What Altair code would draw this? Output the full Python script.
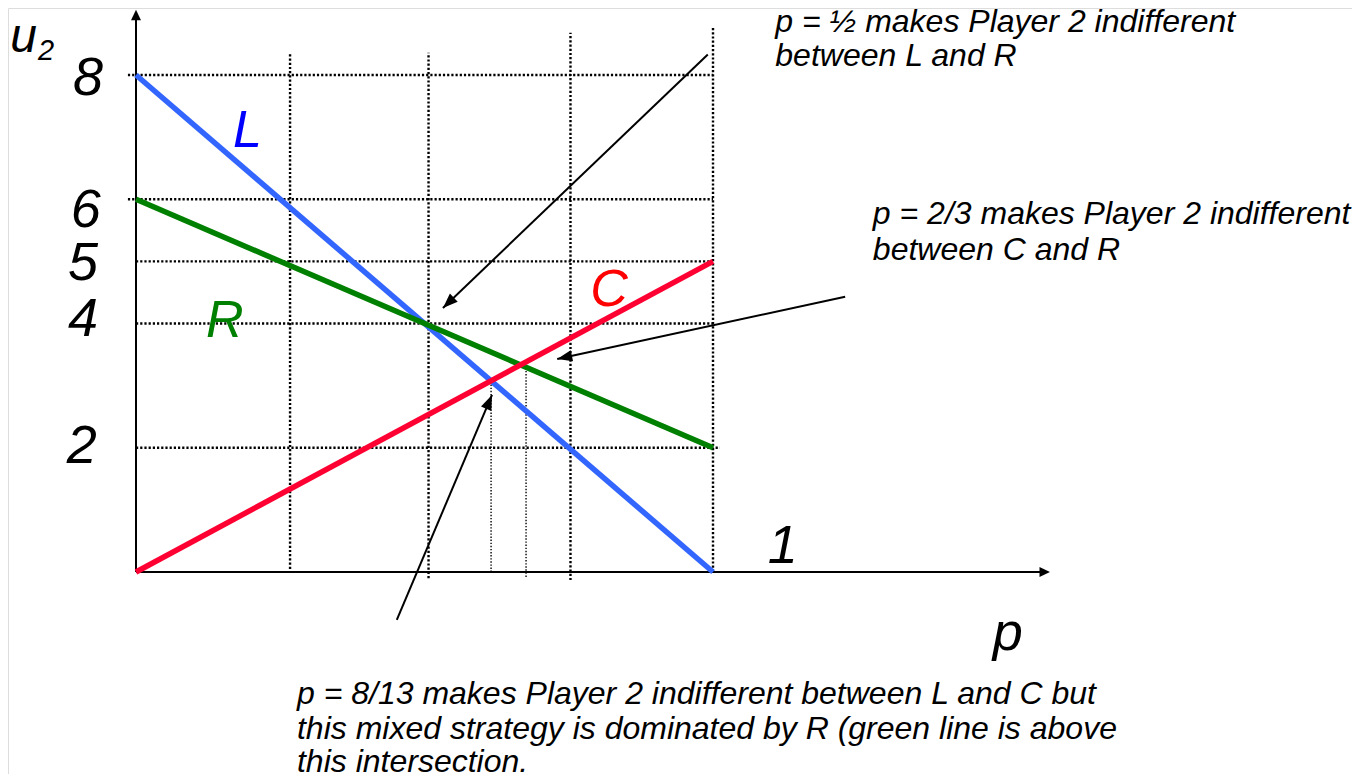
import math
import altair as alt
import pandas as pd

# ---------------- data ----------------
strategies = ["L", "C", "R"]
u_at_p0 = [8, 0, 6]
u_at_p1 = [0, 5, 2]
line_colors = ["#3366FF", "#FF0033", "#008000"]
label_colors = ["#0000FF", "#FF0000", "#008000"]
label_p = [0.193, 0.820, 0.154]
label_u = [6.84, 4.28, 3.78]

# reference (dotted) lines
h_grid_u = [8, 6, 5, 4, 2]
h_grid_p0 = [-0.014, -0.014, 0.0, 0.0, 0.0]
h_grid_p1 = [1.0, 1.0, 1.0, 1.0, 1.012]
v_grid_p = [0.267, 0.507, 0.753, 1.0]
v_grid_u0 = [0.05, -0.10, -0.13, 0.0]
v_grid_u1 = [8.36, 8.36, 8.68, 8.78]
v_thin_p = [8 / 13, 0.676]
v_thin_u0 = [0.0, -0.08]
v_thin_u1 = [3.04, 3.33]

# tick labels on the u axis
tick_text = ["8", "6", "5", "4", "2"]
tick_u = [7.68, 5.55, 4.70, 3.80, 1.75]
tick_p = [-0.083, -0.087, -0.092, -0.092, -0.094]

# annotation arrows: start (p,u) -> tip (p,u)
arr_p0 = [0.991, 1.229, 0.452]
arr_u0 = [8.33, 4.43, -0.77]
arr_p1 = [0.532, 0.730, 0.617]
arr_u1 = [4.25, 3.43, 2.85]

# annotation text lines
ann_text = [
    "p = \u00bd makes Player 2 indifferent",
    "between L and R",
    "p = 2/3 makes Player 2 indifferent",
    "between C and R",
]
ann_p = [1.108, 1.108, 1.277, 1.277]
ann_u = [8.70, 8.14, 5.60, 5.02]

bottom_text = [
    "p = 8/13 makes Player 2 indifferent between L and C but",
    "this mixed strategy is dominated by R (green line is above",
    "this intersection.",
]
bottom_p = [0.279, 0.279, 0.279]
bottom_u = [-2.125, -2.688, -3.219]

# ---------------- scales ----------------
W, H = 1344, 766
KX = 577.0      # px per unit p
KY = 62.125     # px per unit u
XD = [(8 - 136) / KX, (8 + W - 136) / KX]
YD = [(572 - 8 - H) / KY, (572 - 8) / KY]
xs = alt.Scale(domain=XD, nice=False, zero=False)
ys = alt.Scale(domain=YD, nice=False, zero=False)

FONT = "Liberation Sans, Arial, sans-serif"


def X(f="p"):
    return alt.X(f"{f}:Q", scale=xs, axis=None)


def Y(f="u"):
    return alt.Y(f"{f}:Q", scale=ys, axis=None)


def angle(p0, u0, p1, u1):
    dx = (p1 - p0) * KX
    dy = -(u1 - u0) * KY
    return math.degrees(math.atan2(dx, -dy)) % 360


# ---------------- layers ----------------
hgrid = pd.DataFrame({"u": h_grid_u, "p": h_grid_p0, "p2": h_grid_p1})
vgrid = pd.DataFrame({"p": v_grid_p, "u": v_grid_u0, "u2": v_grid_u1})
vthin = pd.DataFrame({"p": v_thin_p, "u": v_thin_u0, "u2": v_thin_u1})

hg = alt.Chart(hgrid).mark_rule(color="black", strokeWidth=2.4, strokeDash=[2.2, 2]).encode(
    x=X(), x2="p2:Q", y=Y())
vg = alt.Chart(vgrid).mark_rule(color="black", strokeWidth=2.4, strokeDash=[2.2, 2]).encode(
    x=X(), y=Y(), y2="u2:Q")
vt = alt.Chart(vthin).mark_rule(color="black", strokeWidth=1.4, strokeDash=[1.4, 1.7]).encode(
    x=X(), y=Y(), y2="u2:Q")

# axes with arrows
axis_df = pd.DataFrame({"p": [0.0, 0.0], "u": [0.0, 0.0], "p2": [0.0, 1.570], "u2": [8.93, 0.0]})
axes = alt.Chart(axis_df).mark_rule(color="black", strokeWidth=2).encode(
    x=X(), y=Y(), x2="p2:Q", y2="u2:Q")
axis_tip = pd.DataFrame({"p": [0.0, 1.584], "u": [9.05, 0.0]})
axis_tip["a"] = [angle(0, 0, 0, 1), angle(0, 0, 1, 0)]
axis_heads = alt.Chart(axis_tip).mark_point(
    shape="M0,0L0.95,2L-0.95,2Z", filled=True, color="black", opacity=1, size=110, strokeWidth=0
).encode(x=X(), y=Y(), angle=alt.Angle("a:Q", scale=None))

# strategy lines
line_layers = []
for i in [0, 2, 1]:
    df = pd.DataFrame({"p": [0.0, 1.0], "u": [u_at_p0[i], u_at_p1[i]]})
    line_layers.append(
        alt.Chart(df).mark_line(color=line_colors[i], strokeWidth=5.5, strokeCap="butt").encode(x=X(), y=Y())
    )

lab_df = pd.DataFrame({"t": strategies, "p": label_p, "u": label_u, "c": label_colors})
labels = alt.Chart(lab_df).mark_text(
    font=FONT, fontStyle="italic", fontSize=52, align="center", baseline="alphabetic"
).encode(x=X(), y=Y(), text="t:N", color=alt.Color("c:N", scale=None))

# arrows
arr_df = pd.DataFrame({"p": arr_p0, "u": arr_u0, "p2": arr_p1, "u2": arr_u1})
arrows = alt.Chart(arr_df).mark_rule(color="black", strokeWidth=2).encode(
    x=X(), y=Y(), x2="p2:Q", y2="u2:Q")
head_df = pd.DataFrame({"p": arr_p1, "u": arr_u1})
head_df["a"] = [angle(a, b, c, d) for a, b, c, d in zip(arr_p0, arr_u0, arr_p1, arr_u1)]
heads = alt.Chart(head_df).mark_point(
    shape="M0,0L0.75,2L-0.75,2Z", filled=True, color="black", opacity=1, size=225, strokeWidth=0
).encode(x=X(), y=Y(), angle=alt.Angle("a:Q", scale=None))

# tick labels and axis titles
ticks = alt.Chart(pd.DataFrame({"t": tick_text, "p": tick_p, "u": tick_u})).mark_text(
    font=FONT, fontStyle="italic", fontSize=54, align="center", baseline="alphabetic", color="black"
).encode(x=X(), y=Y(), text="t:N")

titles_df = pd.DataFrame({"t": ["1", "p"], "p": [1.121, 1.511], "u": [0.145, -1.26]})
titles = alt.Chart(titles_df).mark_text(
    font=FONT, fontStyle="italic", fontSize=54, align="center", baseline="alphabetic", color="black"
).encode(x=X(), y=Y(), text="t:N")

u_lab = alt.Chart(pd.DataFrame({"t": ["u"], "p": [-0.218], "u": [8.37]})).mark_text(
    font=FONT, fontStyle="italic", fontSize=48, align="left", baseline="alphabetic", color="black"
).encode(x=X(), y=Y(), text="t:N")
u_sub = alt.Chart(pd.DataFrame({"t": ["2"], "p": [-0.170], "u": [8.24]})).mark_text(
    font=FONT, fontStyle="italic", fontSize=29, align="left", baseline="alphabetic", color="black"
).encode(x=X(), y=Y(), text="t:N")

ann = alt.Chart(pd.DataFrame({"t": ann_text, "p": ann_p, "u": ann_u})).mark_text(
    font=FONT, fontStyle="italic", fontSize=32, align="left", baseline="alphabetic", color="black"
).encode(x=X(), y=Y(), text="t:N")

bottom = alt.Chart(pd.DataFrame({"t": bottom_text, "p": bottom_p, "u": bottom_u})).mark_text(
    font=FONT, fontStyle="italic", fontSize=32, align="left", baseline="alphabetic", color="black"
).encode(x=X(), y=Y(), text="t:N")

chart = alt.layer(
    hg, vg, vt, axes, axis_heads, *line_layers, labels, arrows, heads,
    ticks, titles, u_lab, u_sub, ann, bottom
).properties(
    width=W, height=H, padding=0, autosize=alt.AutoSizeParams(type="none")
).configure_view(stroke=None).configure(background="white")

chart.save("out.html", embed_options={"renderer": "svg", "actions": False})
